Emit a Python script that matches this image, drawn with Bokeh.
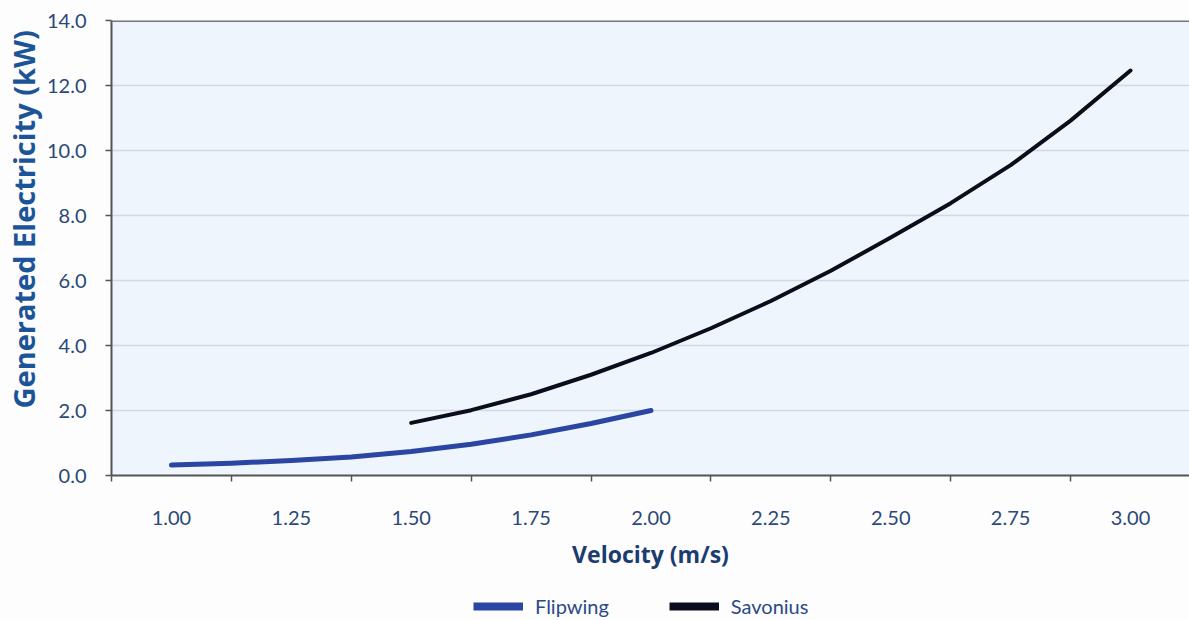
from bokeh.plotting import figure
from bokeh.layouts import column
from bokeh.models import (Range1d, FixedTicker, NumeralTickFormatter, Legend, LegendItem, Span, Title)
from bokeh.embed import file_html
from bokeh.resources import INLINE

# Data
flip_v = [1.000, 1.125, 1.250, 1.375, 1.500, 1.625, 1.750, 1.875, 2.000]
flip_p = [0.32, 0.38, 0.46, 0.57, 0.74, 0.96, 1.25, 1.60, 2.00]

sav_v = [1.500, 1.625, 1.750, 1.875, 2.000, 2.125, 2.250, 2.375, 2.500, 2.625, 2.750, 2.875, 3.000]
sav_p = [1.62, 2.01, 2.50, 3.10, 3.77, 4.53, 5.37, 6.30, 7.32, 8.38, 9.55, 10.92, 12.46]

x_ticks = [1.00, 1.25, 1.50, 1.75, 2.00, 2.25, 2.50, 2.75, 3.00]
x_bounds = [0.875, 1.125, 1.375, 1.625, 1.875, 2.125, 2.375, 2.625, 2.875, 3.125]
y_ticks = [0, 2, 4, 6, 8, 10, 12, 14]

series_names = ["Flipwing", "Savonius"]
series_colors = ["#2b45a3", "#0b0d1c"]

TICK_FONT = "'Liberation Sans Narrow', Lato"
TITLE_FONT = "'Open Sans'"
LEG_FONT = "Lato"
TICK_COLOR = "#2a4878"
BG = "#fdfdfd"

p = figure(width=1189, height=590, output_backend="svg", toolbar_location=None,
           x_range=Range1d(0.875, 3.123), y_range=Range1d(0, 14),
           min_border_left=110, min_border_top=20, min_border_right=0, min_border_bottom=115)

p.background_fill_color = "#eef5fc"
p.border_fill_color = BG
p.outline_line_color = None

r1 = p.line(flip_v, flip_p, line_color=series_colors[0], line_width=5,
            line_cap="round", line_join="round")
r2 = p.line(sav_v, sav_p, line_color=series_colors[1], line_width=4,
            line_cap="round", line_join="round")

top = Span(location=14, dimension="width", line_color="#777777", line_width=3)
p.add_layout(top)

# X axis
xa = p.xaxis[0]
xa.ticker = FixedTicker(ticks=x_ticks, minor_ticks=x_bounds)
xa.formatter = NumeralTickFormatter(format="0.00")
xa.major_tick_line_color = None
xa.major_tick_out = 6
xa.major_tick_in = 0
xa.minor_tick_line_color = "#555555"
xa.minor_tick_line_width = 1.5
xa.minor_tick_out = 6
xa.minor_tick_in = 0
xa.axis_line_color = "#555555"
xa.axis_line_width = 2
xa.major_label_standoff = 29
xa.major_label_text_font = TICK_FONT
xa.major_label_text_font_size = "20px"
xa.major_label_text_color = TICK_COLOR
xa.axis_label = "Velocity (m/s)"
xa.axis_label_text_font = TITLE_FONT
xa.axis_label_text_font_style = "bold"
xa.axis_label_text_font_size = "23px"
xa.axis_label_text_color = "#1b3c70"
xa.axis_label_standoff = 10

# Y axis
ya = p.yaxis[0]
ya.ticker = FixedTicker(ticks=y_ticks, minor_ticks=[])
ya.formatter = NumeralTickFormatter(format="0.0")
ya.major_tick_line_color = "#555555"
ya.major_tick_line_width = 1.5
ya.major_tick_out = 6
ya.major_tick_in = 0
ya.minor_tick_line_color = None
ya.axis_line_color = "#555555"
ya.axis_line_width = 2
ya.major_label_standoff = 19
ya.major_label_text_font = TICK_FONT
ya.major_label_text_font_size = "20px"
ya.major_label_text_color = TICK_COLOR

ytitle = Title(text="Generated Electricity (kW)", align="left", offset=67,
               text_font=TITLE_FONT, text_font_style="bold", text_font_size="29px",
               text_color="#1c5597", standoff=2)
p.add_layout(ytitle, "left")

p.xgrid.grid_line_color = None
p.ygrid.ticker = FixedTicker(ticks=y_ticks)
p.ygrid.grid_line_color = "#d3d9e0"
p.ygrid.grid_line_width = 1.5

# Legend strip below the chart (series lines here fall outside its view;
# they only supply the legend swatch styles)
leg = figure(width=1189, height=30, output_backend="svg", toolbar_location=None,
             x_axis_location=None, y_axis_location=None,
             x_range=Range1d(-2, -1), y_range=Range1d(-2, -1),
             min_border_left=0, min_border_right=0, min_border_top=0, min_border_bottom=0)
leg.outline_line_color = None
leg.background_fill_color = BG
leg.border_fill_color = BG
leg.xgrid.visible = False
leg.ygrid.visible = False

l1 = leg.line(flip_v, flip_p, line_color=series_colors[0], line_width=8)
l2 = leg.line(sav_v, sav_p, line_color=series_colors[1], line_width=8)

legend = Legend(items=[LegendItem(label=series_names[0], renderers=[l1]),
                       LegendItem(label=series_names[1], renderers=[l2])],
                orientation="horizontal", location=(362, 2))
legend.label_text_font = LEG_FONT
legend.label_text_font_size = "20px"
legend.label_text_color = "#2b4a86"
legend.glyph_width = 50
legend.glyph_height = 20
legend.label_standoff = 12
legend.spacing = 60
legend.padding = 0
legend.margin = 0
legend.border_line_color = None
legend.background_fill_alpha = 0
leg.add_layout(legend)

layout = column(p, leg, spacing=0)
layout.background = BG

open("out.html", "w").write(file_html(layout, INLINE))
